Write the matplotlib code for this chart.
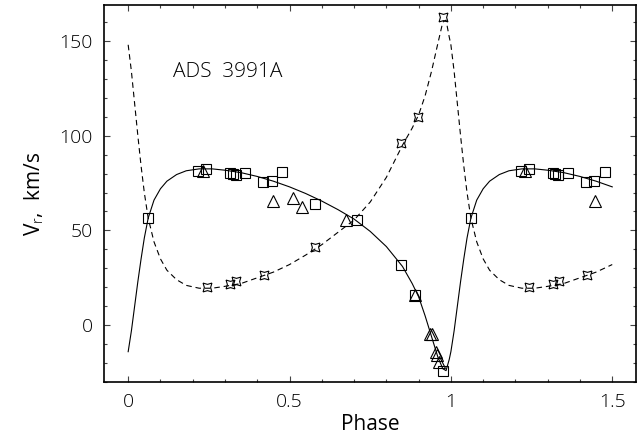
import numpy as np
import matplotlib
matplotlib.use("Agg")
import matplotlib.pyplot as plt
from matplotlib import font_manager

# --- observed radial velocities (phase, km/s) ---
sq_phase = [0.062, 0.217, 0.241, 0.315, 0.324, 0.333, 0.362, 0.419, 0.445,
            0.478, 0.578, 0.710, 0.846, 0.889, 0.976]
sq_vr = [56.5, 81.6, 82.5, 80.5, 80.0, 79.3, 80.4, 75.8, 76.2,
         80.7, 63.9, 55.3, 31.6, 15.8, -24.2]

tri_phase = [0.231, 0.448, 0.512, 0.540, 0.674, 0.889, 0.935, 0.943,
             0.953, 0.958, 0.962]
tri_vr = [81.6, 65.3, 67.1, 62.3, 55.6, 15.8, -4.5, -4.5,
          -14.2, -15.5, -19.5]

star_phase = [0.243, 0.315, 0.334, 0.421, 0.579, 0.846, 0.898, 0.977]
star_vr = [20.2, 21.9, 23.5, 26.5, 41.1, 96.0, 110.0, 162.6]

# --- orbit curves (phase 0..1) ---
curve_phase = [0.00, 0.01, 0.02, 0.03, 0.04, 0.05, 0.062, 0.08, 0.10, 0.12,
               0.15, 0.18, 0.22, 0.26, 0.30, 0.35, 0.40, 0.45, 0.50, 0.55,
               0.60, 0.65, 0.70, 0.75, 0.80, 0.85, 0.88, 0.90, 0.92, 0.94,
               0.96, 0.975, 0.985, 0.995, 1.00]
curve_a = [-14, -3, 10, 23, 35, 46, 56.5, 66, 72, 76,
           79.5, 81.5, 82.5, 82.5, 81.8, 80.5, 78.5, 76, 73, 69.5,
           65.5, 61, 56, 49.5, 41.5, 31, 22, 15, 5, -6,
           -17, -23, -24, -18, -14]
curve_b = [148, 134, 117, 100, 84, 70, 56.5, 44, 35, 29,
           24, 21, 19.5, 19.5, 20.5, 22, 25, 28, 32, 37,
           42.5, 49, 55.5, 65, 78, 95, 104, 111, 121, 134,
           149, 160, 161, 152, 148]


def extend(ph, v, upto=0.5):
    ph = np.asarray(ph, float)
    v = np.asarray(v, float)
    m = ph <= upto
    return np.concatenate([ph, ph[m] + 1]), np.concatenate([v, v[m]])


# thin sans font if one is installed
fam, wt = 'DejaVu Sans', 'normal'
for name in ['Open Sans', 'Roboto', 'Lato', 'Noto Sans', 'Inter']:
    hits = [f for f in font_manager.fontManager.ttflist
            if f.name == name and f.style == 'normal'
            and isinstance(f.weight, int) and 250 <= f.weight <= 300]
    if hits:
        fam, wt = name, hits[0].weight
        break
plt.rcParams['font.family'] = [fam, 'DejaVu Sans']
plt.rcParams['font.weight'] = wt
plt.rcParams['mathtext.fontset'] = 'custom'
plt.rcParams['mathtext.rm'] = fam
plt.rcParams['mathtext.it'] = fam

fig = plt.figure(figsize=(6.41, 4.43), dpi=100)
ax = fig.add_axes([0.1622, 0.1377, 0.8307, 0.851])

cp, ca = extend(curve_phase, curve_a)
_, cb = extend(curve_phase, curve_b)
ax.plot(cp, ca, color='black', lw=0.8)
ax.plot(cp, cb, color='black', lw=0.8, dashes=(5, 3.5))

x, y = extend(sq_phase, sq_vr)
ax.plot(x, y, ls='none', marker='s', ms=7, mfc='none', mec='black', mew=0.8)
x, y = extend(tri_phase, tri_vr)
ax.plot(x, y, ls='none', marker='^', ms=8, mfc='none', mec='black', mew=0.8)
x, y = extend(star_phase, star_vr)
ax.plot(x, y, ls='none', marker=(4, 1, 45), ms=9, mfc='none', mec='black', mew=0.8)

ax.set_xlim(-0.075, 1.575)
ax.set_ylim(-30, 169)
ax.set_xticks([0, 0.5, 1, 1.5])
ax.set_xticklabels(['0', '0.5', '1', '1.5'])
ax.set_yticks([0, 50, 100, 150])
ax.set_xticks(np.arange(0, 1.51, 0.1), minor=True)
ax.set_yticks(np.arange(-30, 169, 10), minor=True)
ax.tick_params(which='both', direction='in', top=True, right=True,
               labelsize=14, pad=8, color='#444444')
ax.tick_params(which='major', length=4, width=0.8)
ax.tick_params(which='minor', length=2, width=0.8)
for s in ax.spines.values():
    s.set_linewidth(1.2)

ax.set_xlabel('Phase', fontsize=15, labelpad=2)
ax.set_ylabel(r'V$_\mathrm{r}$,  km/s', fontsize=15, labelpad=10)
ax.text(0.14, 131, 'ADS  3991A', fontsize=15)

fig.savefig('out.png', dpi=100)
